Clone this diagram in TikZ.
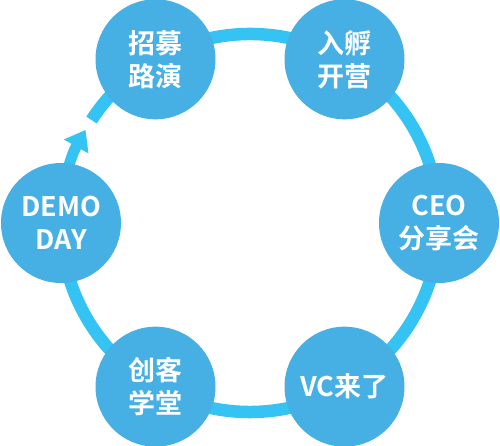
\documentclass[tikz,border=0pt]{standalone}
\usepackage{fontspec}
\newfontfamily\cjk{Noto Sans CJK SC Bold}
\usetikzlibrary{arrows.meta}
\definecolor{ballblue}{HTML}{46AFE4}
\definecolor{ringblue}{HTML}{35C3F3}
\tikzset{
  ball/.style={circle, fill=ballblue, minimum size=120pt, inner sep=0pt,
    text=white, align=center, font=\cjk\fontsize{27}{33}\selectfont},
  ring/.style={draw=ringblue, line width=12.5pt, line cap=butt},
}
\begin{document}
\begin{tikzpicture}[x=1pt,y=1pt]
\useasboundingbox (-250,-223) rectangle (250,223);
\def\R{189}
% ring
\draw[ring] (147:\R) arc[start angle=147, end angle=-180, radius=\R];
\draw[ring, line width=11pt, -{Triangle[length=19pt,width=27pt]}] (180:\R) arc[start angle=180, end angle=150.5, radius=\R];
% circles
\node[ball] (zm) at (120:\R) {招募\\路演};
\node[ball] (rf) at (60:\R) {入孵\\开营};
\node[ball] (ceo) at (0:\R) {CEO\\分享会};
\node[ball] (vc) at (-60:\R) {VC来了};
\node[ball] (ck) at (-120:\R) {创客\\学堂};
\node[ball] (demo) at (180:\R) {DEMO\\DAY};
\end{tikzpicture}
\end{document}
